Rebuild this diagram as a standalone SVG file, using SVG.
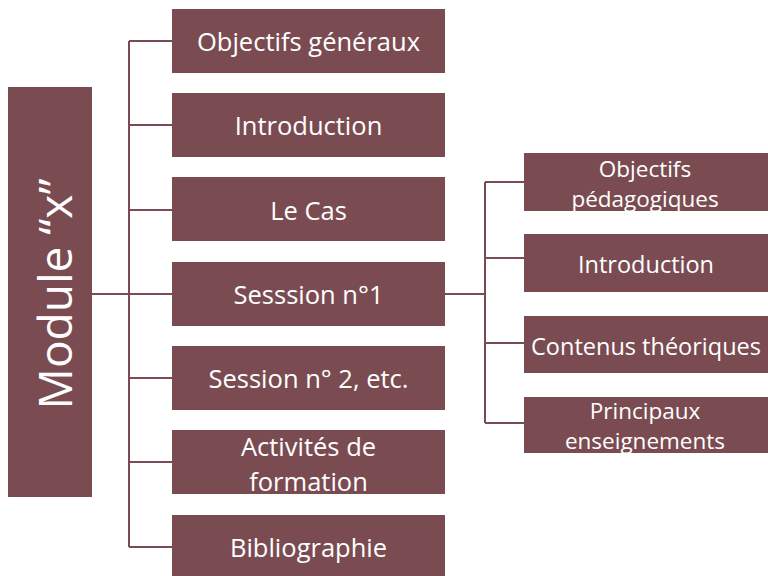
<svg xmlns="http://www.w3.org/2000/svg" width="768" height="576" viewBox="0 0 768 576">
<style>
.box{fill:#7a4c52}
.t{font-family:"Open Sans","Noto Sans",sans-serif;font-size:25.5px;fill:#ffffff;text-anchor:middle}
.r{font-size:23.5px}
.r2{font-size:22.5px}
.ln{stroke:#7a4c52;stroke-width:2;fill:none}
</style>
<rect width="768" height="576" fill="#ffffff"/>
<g id="connectors">
<path class="ln" d="M92 294H129M129 41V547M129 41H172M129 125H172M129 210H172M129 294H172M129 378H172M129 462H172M129 547H172"/>
<path class="ln" d="M445 294H485M485 182V423M485 182H524M485 258H524M485 343H524M485 423H524"/>
</g>
<g id="module">
<rect class="box" x="8" y="87" width="84" height="410"/>
<text class="t" style="font-size:46px" transform="translate(72,294) rotate(-90)">Module “x”</text>
</g>
<g id="n1"><rect class="box" x="172" y="9" width="273" height="64"/><text class="t" x="308.5" y="51">Objectifs généraux</text></g>
<g id="n2"><rect class="box" x="172" y="93" width="273" height="64"/><text class="t" x="308.5" y="135">Introduction</text></g>
<g id="n3"><rect class="box" x="172" y="177" width="273" height="64"/><text class="t" x="308.5" y="220">Le Cas</text></g>
<g id="n4"><rect class="box" x="172" y="262" width="273" height="64"/><text class="t" x="308.5" y="304">Sesssion n°1</text></g>
<g id="n5"><rect class="box" x="172" y="346" width="273" height="64"/><text class="t" x="308.5" y="388">Session n° 2, etc.</text></g>
<g id="n6"><rect class="box" x="172" y="430" width="273" height="64"/><text class="t" x="308.5" y="456">Activités de</text><text class="t" x="308.5" y="491">formation</text></g>
<g id="n7"><rect class="box" x="172" y="515" width="273" height="62"/><text class="t" x="308.5" y="557">Bibliographie</text></g>
<g id="s1"><rect class="box" x="524" y="153" width="244" height="58"/><text class="t r2" x="645" y="177">Objectifs</text><text class="t r2" x="645" y="207">pédagogiques</text></g>
<g id="s2"><rect class="box" x="524" y="234" width="244" height="58"/><text class="t r" x="646" y="273">Introduction</text></g>
<g id="s3"><rect class="box" x="524" y="316" width="244" height="57"/><text class="t r" x="646" y="355">Contenus théoriques</text></g>
<g id="s4"><rect class="box" x="524" y="397" width="244" height="56"/><text class="t r2" x="645" y="419">Principaux</text><text class="t r2" x="645" y="449">enseignements</text></g>
</svg>
